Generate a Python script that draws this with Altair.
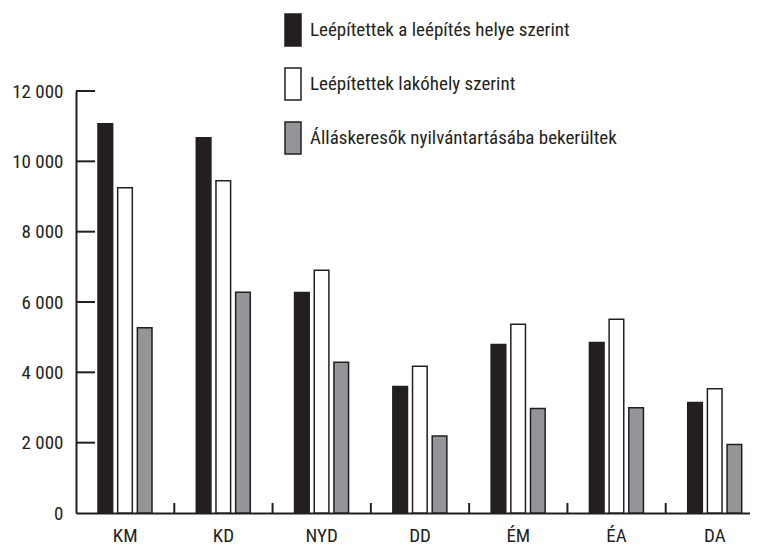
import altair as alt
import pandas as pd

categories = ["KM", "KD", "NYD", "DD", "ÉM", "ÉA", "DA"]
series = [
    "Leépítettek a leépítés helye szerint",
    "Leépítettek lakóhely szerint",
    "Álláskeresők nyilvántartásába bekerültek",
]
v_place = [11070, 10670, 6270, 3600, 4790, 4850, 3140]
v_home = [9250, 9450, 6900, 4170, 5370, 5510, 3530]
v_jobseek = [5270, 6280, 4290, 2190, 2970, 2990, 1950]
y_ticks = [2000, 4000, 6000, 8000, 10000, 12000]
colors = ["#231f20", "#ffffff", "#939598"]

rows = []
for s, vals in zip(series, [v_place, v_home, v_jobseek]):
    for c, v in zip(categories, vals):
        rows.append({"cat": c, "series": s, "value": v})
df = pd.DataFrame(rows)
df_cat = pd.DataFrame({"cat": categories})
df_yt = pd.DataFrame({"v": y_ticks})

FONT = "Roboto Condensed, Noto Sans Condensed, Liberation Sans Narrow, DejaVu Sans Condensed, sans-serif"
INK = "#231f20"
W = 674
H = 422
FS = 19

xscale = alt.Scale(domain=categories, range=[0, 688], paddingInner=0, paddingOuter=0)
yscale = alt.Scale(domain=[0, 12000], nice=False)

xaxis = alt.Axis(title=None, ticks=False, grid=False, labelAngle=0, labelFont=FONT,
                 labelFontSize=FS, labelColor=INK, labelPadding=28,
                 labelBaseline="alphabetic", domainColor=INK, domainWidth=2)
yaxis = alt.Axis(title=None, values=[0] + y_ticks, ticks=False, grid=False,
                 labelFont=FONT, labelFontSize=FS, labelColor=INK,
                 labelPadding=13, domainColor=INK, domainWidth=2,
                 labelExpr="replace(format(datum.value, ','), ',', ' ')")

bars = alt.Chart(df).mark_bar(stroke=INK, strokeWidth=1.5).encode(
    x=alt.X("cat:N", scale=xscale, sort=categories, axis=xaxis),
    xOffset=alt.XOffset("series:N", sort=series,
                        scale=alt.Scale(domain=series, range=[22, 76],
                                        paddingInner=0.256, paddingOuter=0)),
    y=alt.Y("value:Q", scale=yscale, axis=yaxis),
    color=alt.Color("series:N", sort=series,
                    scale=alt.Scale(domain=series, range=colors),
                    legend=alt.Legend(title=None, orient="none", legendX=200, legendY=-78,
                                      symbolType="M-0.5,-1H0.5V1H-0.5Z", symbolSize=1024,
                                      symbolStrokeColor=INK, symbolStrokeWidth=1.5,
                                      symbolOpacity=1,
                                      labelFont=FONT, labelFontSize=FS, labelColor=INK,
                                      labelOffset=0, rowPadding=16, padding=0, labelLimit=500)),
)

yticks = alt.Chart(df_yt).mark_rule(color=INK, strokeWidth=2).encode(
    y=alt.Y("v:Q", scale=yscale, axis=yaxis),
    x=alt.value(0),
    x2=alt.value(19),
)

xticks = alt.Chart(df_cat).mark_rule(color=INK, strokeWidth=2).encode(
    x=alt.X("cat:N", scale=xscale, sort=categories, bandPosition=1, axis=xaxis),
    y=alt.value(H - 10),
    y2=alt.value(H),
)

chart = (
    alt.layer(bars, yticks, xticks)
    .properties(
        width=W, height=H,
        autosize=alt.AutoSizeParams(type="none"),
        padding={"left": 68, "top": 83, "right": 0, "bottom": 32},
    )
    .configure(background="white")
    .configure_view(stroke=None, strokeWidth=0, strokeOpacity=0)
    .configure_axis(grid=False, gridOpacity=0, gridColor="white")
    .configure_axisX(grid=False)
    .configure_axisY(grid=False)
)

chart.save("out.html", embed_options={"renderer": "svg", "actions": False})
